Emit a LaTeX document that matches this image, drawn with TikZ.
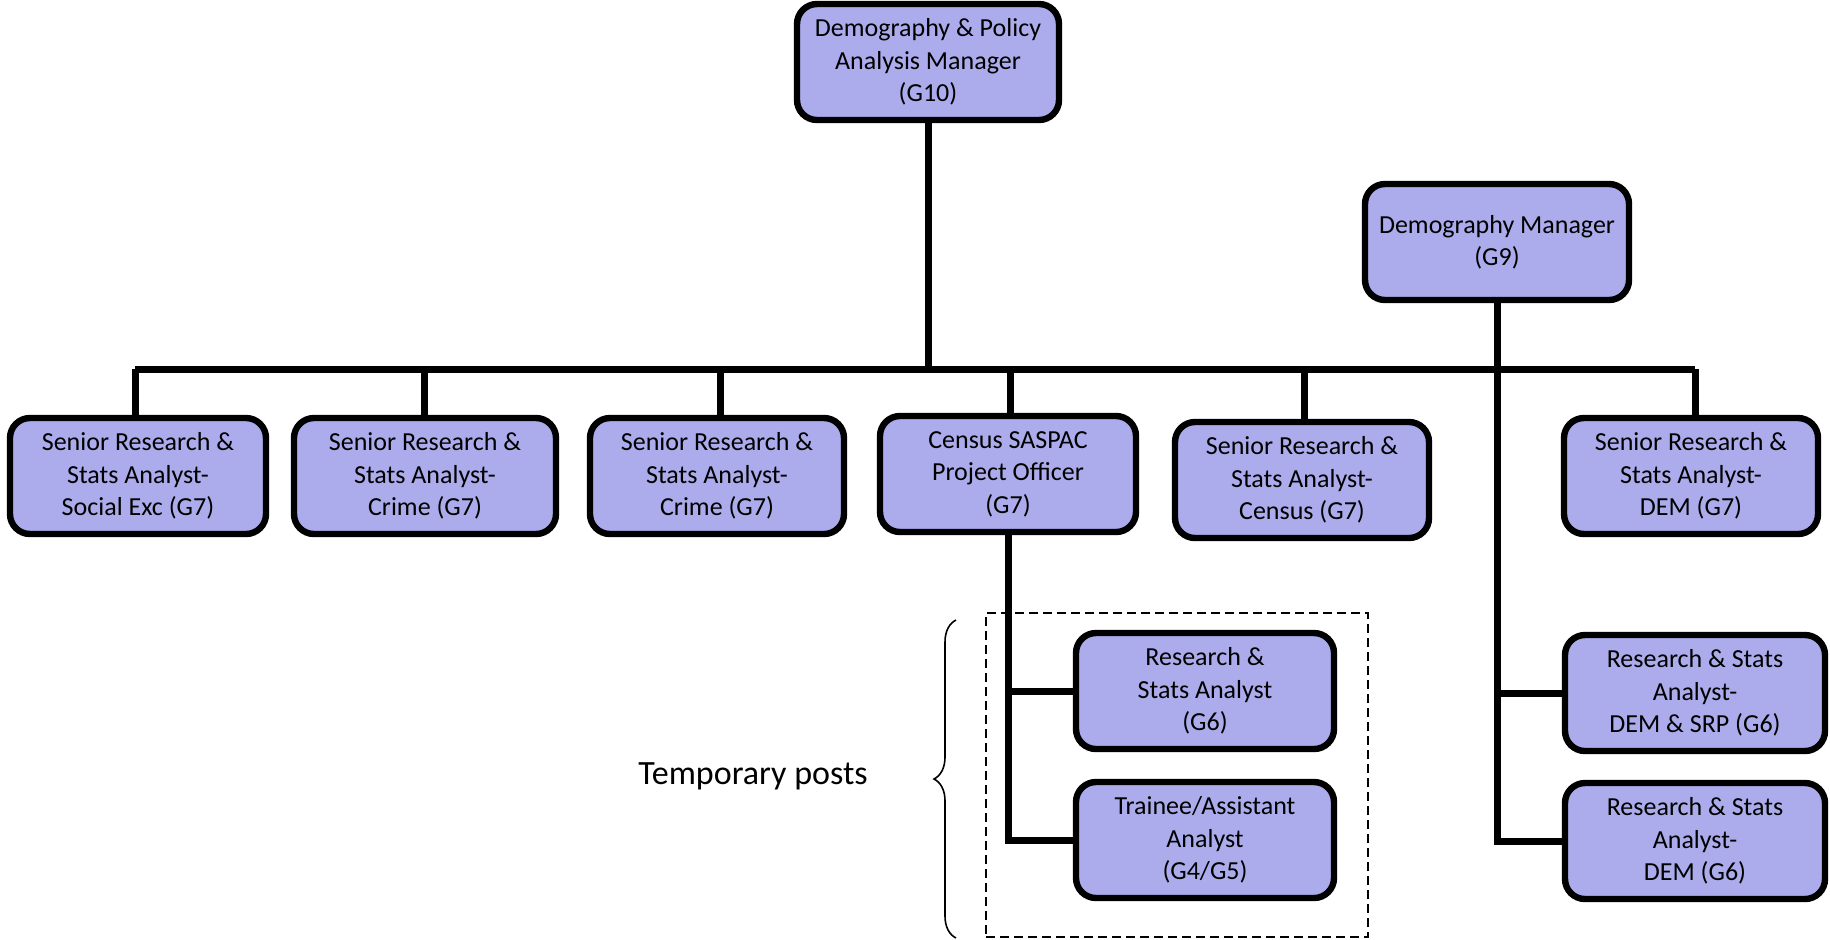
\documentclass[tikz,border=0pt]{standalone}
\usepackage{fontspec}
\setmainfont{Carlito}
\usetikzlibrary{decorations.pathreplacing}
\definecolor{postfill}{RGB}{172,172,236}
\tikzset{
  post/.style={draw=black, line width=3.2pt, rounded corners=10pt, fill=postfill,
    align=center, inner sep=2pt, font=\fontsize{13}{16.2}\selectfont,
    minimum height=58pt},
  wide/.style={minimum width=#1},
  link/.style={line width=3.5pt, line join=miter},
}
\begin{document}
\begin{tikzpicture}[x=0.5pt,y=-0.5pt]
\useasboundingbox (0,0) rectangle (1830,939);

% managers
\node[post, wide=131pt] (top) at (928,62) {Demography \& Policy\\Analysis Manager\\(G10)};
\node[post, wide=132pt] (dm) at (1497,242) {Demography Manager\\(G9)};

% first row of posts
\node[post, wide=128pt] (r1) at (138,476) {Senior Research \&\\Stats Analyst-\\Social Exc (G7)};
\node[post, wide=131pt] (r2) at (425,476) {Senior Research \&\\Stats Analyst-\\Crime (G7)};
\node[post, wide=127pt] (r3) at (717,476) {Senior Research \&\\Stats Analyst-\\Crime (G7)};
\node[post, wide=128pt] (r4) at (1008,474) {Census SASPAC\\Project Officer\\(G7)};
\node[post, wide=127pt] (r5) at (1302,480) {Senior Research \&\\Stats Analyst-\\Census (G7)};
\node[post, wide=127pt] (r6) at (1691,476) {Senior Research \&\\Stats Analyst-\\DEM (G7)};

% temporary posts
\node[post, wide=129pt] (t1) at (1205,691) {Research \&\\Stats Analyst\\(G6)};
\node[post, wide=129pt] (t2) at (1205,840) {Trainee/Assistant\\Analyst\\(G4/G5)};

% demography analysts
\node[post, wide=130pt] (d1) at (1695,693) {Research \& Stats\\Analyst-\\DEM \& SRP (G6)};
\node[post, wide=130pt] (d2) at (1695,841) {Research \& Stats\\Analyst-\\DEM (G6)};

% bus line joining the first row to the senior manager
\coordinate (bus) at (0,369);
\draw[link] (top.south) -- (top.south |- bus);
\draw[link] (135,369) -- (1695,369);
\foreach \n/\x in {r1/135, r2/424, r3/720, r4/1010, r5/1304, r6/1695}
  \draw[link] (\x,369) -- (\x,0 |- \n.north);

% demography manager reports
\draw[link] (dm.south) |- (d2.west);
\draw[link] (dm.south |- d1.west) -- (d1.west);

% census officer reports
\draw[link] (r4.south) |- (t2.west);
\draw[link] (r4.south |- t1.west) -- (t1.west);

% temporary posts frame and brace
\node[draw, line width=1.4pt, dash pattern=on 4.5pt off 2.5pt,
  minimum width=191pt, minimum height=162pt, inner sep=0pt] (tmpbox) at (1177,775) {};
\draw[line width=0.8pt, decorate, decoration={brace, amplitude=11pt}]
  (956,938) -- (956,620);
\node[font=\fontsize{17}{20}\selectfont] (tmp) at (753,776) {Temporary posts};
\end{tikzpicture}
\end{document}
